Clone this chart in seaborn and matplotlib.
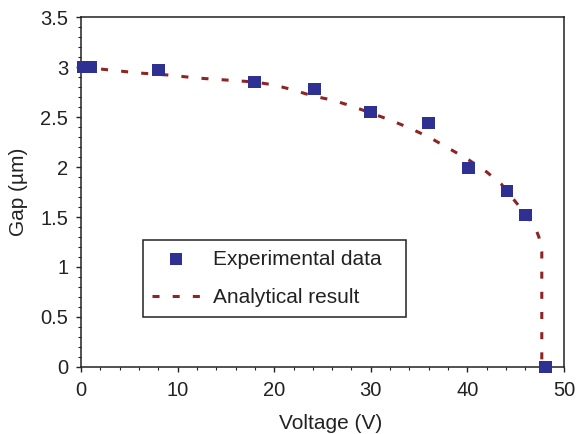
import matplotlib
matplotlib.use('Agg')

from matplotlib import pyplot as plt
from matplotlib.ticker import MultipleLocator
import pandas as pd
import seaborn as sns


# experimental points
exp_voltage = [0.2, 1.0, 8.0, 18.0, 24.2, 30.0, 36.0, 40.1, 44.1, 46.0, 48.1]
exp_gap = [3.0, 3.0, 2.97, 2.85, 2.78, 2.55, 2.44, 1.99, 1.76, 1.52, 0.0]

# analytical curve (pull-in), traced
model_voltage = [0, 3, 6, 9, 12, 15, 18, 20, 22, 24, 26, 28, 30, 32, 34, 36,
                 38, 40, 42, 43.5, 45, 46, 47, 47.4, 47.7, 47.7]
model_gap = [3.0, 2.97, 2.94, 2.92, 2.89, 2.87, 2.85, 2.82, 2.77, 2.71, 2.67,
             2.61, 2.54, 2.47, 2.39, 2.30, 2.19, 2.08, 1.95, 1.83, 1.65, 1.53,
             1.40, 1.30, 1.15, 0.0]

MARKER_COLOR = '#2e3192'
LINE_COLOR = '#8e2525'
INK = '#222222'


def main():
    sns.set_style('ticks')
    plt.rcParams['font.family'] = ['Liberation Sans', 'DejaVu Sans']

    exp = pd.DataFrame({'voltage': exp_voltage, 'gap': exp_gap})
    model = pd.DataFrame({'voltage': model_voltage, 'gap': model_gap})

    fig = plt.figure(figsize=(5.77, 4.34), dpi=100)
    ax = fig.add_axes([0.1404, 0.1544, 0.8371, 0.8064])

    sns.lineplot(data=model, x='voltage', y='gap', ax=ax, sort=False,
                 estimator=None, color=LINE_COLOR, linewidth=2.2,
                 dashes=False, label='Analytical result', zorder=2)
    ax.lines[0].set_dashes((2.3, 4.3))
    sns.scatterplot(data=exp, x='voltage', y='gap', ax=ax, marker='s',
                    s=85, color=MARKER_COLOR, edgecolor='none',
                    label='Experimental data', zorder=3, clip_on=False)

    ax.set_xlim(0, 50)
    ax.set_ylim(0, 3.5)
    ax.xaxis.set_major_locator(MultipleLocator(10))
    ax.xaxis.set_minor_locator(MultipleLocator(2))
    ax.yaxis.set_minor_locator(MultipleLocator(0.1))
    ax.set_yticks([0, 0.5, 1, 1.5, 2, 2.5, 3, 3.5])
    ax.set_yticklabels(['0', '0.5', '1', '1.5', '2', '2.5', '3', '3.5'])

    ax.tick_params(which='major', direction='out', length=3.6, width=1,
                   labelsize=14.5, colors=INK)
    ax.tick_params(which='minor', direction='out', length=2.2, width=0.8,
                   colors=INK)
    ax.tick_params(axis='x', which='major', pad=6.4)
    ax.tick_params(axis='y', which='major', pad=5.5)
    for side in ['top', 'right', 'left', 'bottom']:
        ax.spines[side].set_visible(True)
        ax.spines[side].set_color(INK)
        ax.spines[side].set_linewidth(1.1)

    ax.set_xlabel('Voltage (V)', fontsize=15, color=INK, labelpad=10.5, x=0.516)
    ax.set_ylabel('Gap (µm)', fontsize=15, color=INK, labelpad=9)

    handles, labels = ax.get_legend_handles_labels()
    order = [labels.index('Experimental data'), labels.index('Analytical result')]
    leg = ax.legend([handles[i] for i in order], [labels[i] for i in order],
                    loc='lower left', bbox_to_anchor=(0.1277, 0.1437, 0.5443, 0.216),
                    mode='expand', fontsize=15, frameon=True, fancybox=False,
                    edgecolor=INK, framealpha=1, borderpad=0.45,
                    labelspacing=0.95, handlelength=2.3, handletextpad=0.62,
                    borderaxespad=0, scatterpoints=1)
    leg.get_frame().set_linewidth(1.1)
    for t in leg.get_texts():
        t.set_color(INK)

    fig.savefig('out.png', dpi=100)


if __name__ == '__main__':
    main()
